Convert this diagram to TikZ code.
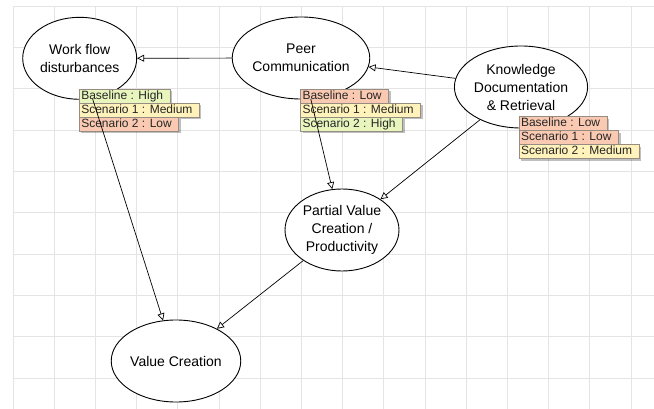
\documentclass[tikz,border=0pt]{standalone}
\usepackage{fontspec}
\setmainfont{Liberation Sans}
\usetikzlibrary{positioning, arrows.meta, shapes, shadows}
\definecolor{gridgray}{RGB}{228,228,228}
\definecolor{lowfill}{RGB}{250,201,178}
\definecolor{medfill}{RGB}{255,242,186}
\definecolor{highfill}{RGB}{232,246,190}
\definecolor{lblborder}{RGB}{150,140,130}

\begin{document}
\begin{tikzpicture}[x=1pt, y=-1pt,
  factor/.style={draw, ellipse, fill=white, line width=0.9pt, minimum width=114pt, minimum height=82pt, inner sep=0pt, align=center, font=\fontsize{14}{18}\selectfont},
  lbl/.style={draw=lblborder, line width=0.6pt, anchor=north west, outer sep=0pt, inner xsep=2pt, inner ysep=0pt, minimum height=14pt, text height=9pt, text depth=2.5pt, text=black!85, font=\fontsize{12}{14}\selectfont, drop shadow={shadow xshift=2pt, shadow yshift=-2pt, fill=black, opacity=0.25}, execute at end node={\hspace*{5pt}}},
  lowlbl/.style={lbl, fill=lowfill},
  medlbl/.style={lbl, fill=medfill},
  highlbl/.style={lbl, fill=highfill},
  link/.style={-{Triangle[open, length=7pt, width=7pt]}, line width=0.7pt}]
\useasboundingbox (0,0) rectangle (654,409);
\fill[white] (0,0) rectangle (654,409);
% grid
\foreach \gx in {0,...,15} \draw[gridgray] (12.7+41.2*\gx,6) -- (12.7+41.2*\gx,409);
\foreach \gy in {0,...,9} \draw[gridgray] (12.7,6+41.3*\gy) -- (654,6+41.3*\gy);

\node[factor] (wfd) at (79.7,58.3) {Work flow\\disturbances};
\node[factor] (peer) at (301,58) {Peer\\Communication};
\node[factor] (know) at (521,87) {Knowledge\\Documentation\\\& Retrieval};
\node[factor] (pvc) at (342,230) {Partial Value\\Creation /\\Productivity};
\node[factor] (value) at (176,361) {Value Creation};

% scenario labels
\node[highlbl] (wfdb) at (79.3,89) {Baseline : High};
\node[medlbl] (wfds1) at (wfdb.south west) {Scenario 1 : Medium};
\node[lowlbl] (wfds2) at (wfds1.south west) {Scenario 2 : Low};

\node[lowlbl] (peerb) at (300.5,89.3) {Baseline : Low};
\node[medlbl] (peers1) at (peerb.south west) {Scenario 1 : Medium};
\node[highlbl] (peers2) at (peers1.south west) {Scenario 2 : High};

\node[lowlbl] (knowb) at (519,116.7) {Baseline : Low};
\node[lowlbl] (knows1) at (knowb.south west) {Scenario 1 : Low};
\node[medlbl] (knows2) at (knows1.south west) {Scenario 2 : Medium};

\draw[link] (peer) -- (wfd);
\draw[link] (know) -- (peer);
\draw[link] (peer) -- (pvc);
\draw[link] (know) -- (pvc);
\draw[link] (wfd) -- (value);
\draw[link] (pvc) -- (value);
\end{tikzpicture}
\end{document}
